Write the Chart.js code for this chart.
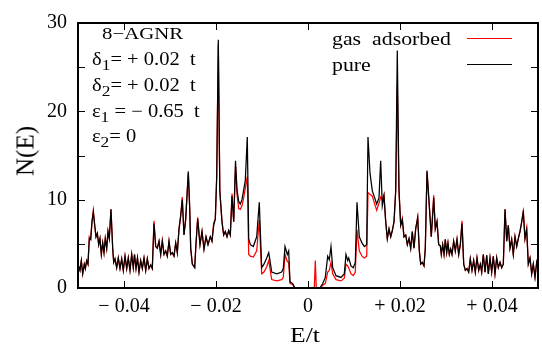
<!DOCTYPE html>
<html>
<head>
<meta charset="utf-8">
<title>8-AGNR density of states</title>
<script src="https://cdn.jsdelivr.net/npm/chart.js@4.4.0/dist/chart.umd.min.js"></script>
<style>
  body { margin: 0; background: #fff; }
  #wrap { position: relative; width: 542px; height: 354px; font-family: 'Liberation Serif', 'Times New Roman', serif; color: #000; }
  #wrap canvas { position: absolute; left: 0; top: 0; }
  .txt { position: absolute; white-space: pre; line-height: 1; transform-origin: 0 0; }
  .info { left: 92px; font-size: 18px; transform: scaleX(1.14); }
  .info sub { font-size: 0.85em; vertical-align: -0.3em; line-height: 0; }
  .key { left: 332px; font-size: 19.5px; transform: scaleX(1.12); }
  .sample { position: absolute; left: 467px; width: 45px; height: 0; border-top: 1.2px solid; }
</style>
</head>
<body>
<div id="wrap">
  <canvas id="dos" width="542" height="354"></canvas>

  <div class="txt info" style="left:102px; top:26px; font-size:16px; transform:scaleX(1.3);">8−AGNR</div>
  <div class="txt info" style="top:50px;">δ<sub>1</sub>= + 0.02  t</div>
  <div class="txt info" style="top:76px;">δ<sub>2</sub>= + 0.02  t</div>
  <div class="txt info" style="top:102px;">ε<sub>1</sub> = − 0.65  t</div>
  <div class="txt info" style="top:127px;">ε<sub>2</sub>= 0</div>

  <div class="txt key" style="top:29px;">gas  adsorbed</div>
  <div class="sample" style="top:38px; border-color:#ff0000;"></div>
  <div class="txt key" style="top:55px;">pure</div>
  <div class="sample" style="top:64px; border-color:#000000;"></div>

  <div class="txt" style="left:290px; top:325px; font-size:20px; transform:scaleX(1.28);">E/t</div>
  <div class="txt" style="left:25px; top:151px; font-size:25px; transform-origin:50% 50%; transform:translate(-50%,-50%) rotate(-90deg);">N(E)</div>
</div>

<script>
// energy grid (units of t) shared by both curves
const energy = [
  -0.05000, -0.04957, -0.04928, -0.04898, -0.04863, -0.04841, -0.04811, -0.04783, -0.04754, -0.04724,
  -0.04696, -0.04667, -0.04637, -0.04609, -0.04580, -0.04550, -0.04522, -0.04493, -0.04463, -0.04435,
  -0.04407, -0.04376, -0.04348, -0.04320, -0.04283, -0.04246, -0.04224, -0.04196, -0.04159, -0.04124,
  -0.04087, -0.04050, -0.04015, -0.03978, -0.03941, -0.03907, -0.03870, -0.03833, -0.03798, -0.03772,
  -0.03739, -0.03707, -0.03674, -0.03637, -0.03602, -0.03565, -0.03528, -0.03493, -0.03457, -0.03420,
  -0.03385, -0.03348, -0.03311, -0.03276, -0.03239, -0.03202, -0.03167, -0.03130, -0.03093, -0.03059,
  -0.03022, -0.02985, -0.02950, -0.02913, -0.02876, -0.02841, -0.02804, -0.02767, -0.02733, -0.02696,
  -0.02659, -0.02602, -0.02572, -0.02550, -0.02515, -0.02463, -0.02435, -0.02398, -0.02348, -0.02304,
  -0.02261, -0.02217, -0.02174, -0.02124, -0.02087, -0.02050, -0.02015, -0.01985, -0.01950, -0.01917,
  -0.01870, -0.01833, -0.01798, -0.01761, -0.01724, -0.01689, -0.01652, -0.01615, -0.01576, -0.01543,
  -0.01507, -0.01472, -0.01435, -0.01398, -0.01363, -0.01320, -0.01289, -0.01254,
  -0.01189, -0.01115, -0.01059, -0.01007, -0.00957, -0.00898, -0.00854, -0.00826, -0.00789, -0.00680,
  -0.00572, -0.00537, -0.00500, -0.00450, -0.00420, -0.00391, -0.00333, -0.00298, -0.00261,
  0.00137, 0.00159, 0.00180, 0.00261, 0.00320, 0.00376, 0.00428, 0.00463, 0.00500, 0.00537,
  0.00609, 0.00717, 0.00789, 0.00826, 0.00863, 0.00885, 0.00935, 0.00985, 0.01028, 0.01065,
  0.01115, 0.01174, 0.01224,
  0.01276, 0.01304, 0.01348, 0.01398, 0.01450, 0.01493, 0.01543, 0.01580, 0.01615, 0.01652,
  0.01689, 0.01724, 0.01761, 0.01798, 0.01833, 0.01870, 0.01907, 0.01941, 0.01978, 0.02015,
  0.02050, 0.02087, 0.02124, 0.02159, 0.02196, 0.02233, 0.02267, 0.02304, 0.02341, 0.02385,
  0.02420, 0.02450, 0.02485, 0.02522,
  0.02550, 0.02587, 0.02637, 0.02680, 0.02733, 0.02767, 0.02804, 0.02841, 0.02876, 0.02898,
  0.02928, 0.02957, 0.02985, 0.03015, 0.03043, 0.03072, 0.03102, 0.03130, 0.03167, 0.03202,
  0.03239, 0.03276, 0.03311, 0.03348, 0.03385, 0.03420, 0.03457, 0.03493, 0.03528, 0.03565,
  0.03602, 0.03637, 0.03674, 0.03711, 0.03746, 0.03776,
  0.03811, 0.03848, 0.03885, 0.03920, 0.03957, 0.03993, 0.04028, 0.04065, 0.04102, 0.04137,
  0.04174, 0.04211, 0.04246, 0.04283, 0.04320, 0.04354, 0.04391, 0.04428, 0.04463, 0.04500,
  0.04537, 0.04572, 0.04609, 0.04646, 0.04680, 0.04717, 0.04754, 0.04789, 0.04826, 0.04863,
  0.04898, 0.04935, 0.04972, 0.05000
];

// N(E) of the clean ribbon
const pure = [
  2.7, 2.0, 3.1, 1.6, 2.7, 2.2, 3.1, 2.7, 5.6, 5.5,
  7.5, 8.6, 7.1, 5.8, 6.2, 4.9, 5.6, 3.8, 5.1, 4.0,
  5.6, 4.5, 6.4, 5.6, 8.9, 4.5, 2.9, 3.3, 2.3, 3.4,
  2.2, 3.3, 2.0, 3.6, 2.2, 3.4, 2.0, 3.8, 2.3, 3.8,
  2.2, 3.4, 1.8, 3.1, 2.2, 3.4, 2.0, 3.3, 2.2, 2.6,
  2.2, 7.3, 4.7, 4.5, 5.3, 3.8, 5.3, 3.8, 4.2, 3.6,
  5.3, 3.8, 4.0, 3.6, 5.1, 4.0, 6.7, 8.2, 10.0, 6.0,
  7.8, 13.2, 9.1, 4.5, 2.7, 2.3, 5.0, 7.8, 4.9, 6.4,
  4.4, 5.8, 4.9, 5.8, 5.3, 7.1, 7.8, 12.5, 28.1, 11.0,
  7.5, 6.0, 6.4, 5.8, 6.5, 6.0, 10.4, 7.5, 14.4, 11.1,
  9.8, 9.5, 10.0, 11.1, 12.2, 17.1, 5.6, 4.9,
  4.7, 5.8, 9.7, 2.3, 2.7, 3.4, 4.0, 3.1, 1.8, 1.6,
  1.8, 2.2, 4.7, 3.8, 4.2, 0.7, 0.5, 0.1, 0,
  0, 0, 0, 0, 0.5, 1.2, 3.6, 3.2, 4.7, 2.3,
  1.4, 1.2, 1.6, 3.8, 3.1, 3.4, 2.5, 2.3, 2.9, 9.7,
  5.8, 5.1, 4.7,
  4.9, 17.1, 13.0, 11.0, 10.2, 9.5, 10.2, 14.4, 9.3, 10.4,
  7.5, 5.6, 6.7, 5.8, 6.5, 7.5, 11.1, 26.9, 11.1, 7.1,
  7.7, 5.8, 6.0, 4.9, 5.6, 4.5, 6.4, 4.5, 6.7, 8.0,
  4.2, 2.7, 2.9, 2.5,
  4.5, 13.3, 9.3, 5.8, 10.2, 6.7, 7.5, 4.9, 4.8, 3.8,
  4.9, 3.8, 5.5, 4.0, 5.1, 3.8, 4.4, 3.8, 5.3, 4.2,
  5.5, 3.8, 4.9, 7.3, 2.7, 2.0, 2.2, 1.8, 3.3, 2.0,
  3.1, 1.8, 3.4, 2.0, 2.7, 1.8,
  3.8, 1.8, 3.7, 1.6, 3.4, 1.8, 3.6, 1.6, 3.4, 2.3,
  2.9, 2.3, 2.7, 8.9, 5.3, 7.1, 4.5, 5.5, 3.8, 5.8,
  4.7, 5.6, 6.4, 7.5, 8.6, 5.6, 6.6, 2.7, 3.4, 1.6,
  2.7, 1.2, 2.9, 2.3
];

// N(E) with the gas molecule adsorbed
const gasAdsorbed = [
  2.7, 2.0, 3.1, 1.6, 2.7, 2.2, 3.1, 2.7, 5.8, 5.5,
  7.5, 8.8, 7.1, 5.8, 6.2, 4.9, 5.6, 3.8, 5.1, 4.0,
  5.6, 4.5, 6.4, 5.6, 8.9, 4.5, 2.9, 3.3, 2.3, 3.4,
  2.2, 3.3, 2.0, 3.6, 2.2, 3.4, 2.0, 3.8, 2.3, 3.8,
  2.2, 3.4, 1.8, 3.1, 2.2, 3.4, 2.0, 3.3, 2.2, 2.6,
  2.2, 7.6, 4.7, 4.5, 5.3, 3.8, 5.4, 3.8, 4.2, 3.6,
  5.3, 3.8, 4.0, 3.6, 5.1, 4.0, 6.7, 8.2, 10.3, 6.0,
  7.8, 13.0, 9.1, 4.5, 2.7, 2.3, 5.0, 8.0, 4.9, 6.4,
  4.4, 5.8, 4.9, 5.8, 5.3, 7.4, 7.8, 12.5, 27.6, 11.0,
  7.5, 6.0, 6.4, 5.8, 6.5, 6.0, 10.7, 7.5, 13.8, 10.6,
  9.0, 8.9, 9.3, 10.2, 11.3, 12.6, 3.8, 3.6,
  3.5, 4.2, 7.7, 1.6, 1.8, 2.4, 3.1, 2.2, 0.95, 0.8,
  0.95, 1.2, 3.8, 3.0, 2.9, 0.5, 0.4, 0.1, 0,
  0, 3.1, 0, 0, 0.3, 0.5, 1.8, 2.0, 2.9, 1.6,
  0.95, 0.8, 1.1, 2.7, 2.5, 2.3, 1.6, 1.4, 1.8, 6.6,
  4.2, 3.6, 3.4,
  3.6, 10.8, 10.6, 10.4, 9.5, 8.8, 9.6, 10.3, 10.0, 10.6,
  7.5, 5.6, 6.7, 5.8, 6.5, 7.5, 11.0, 22.9, 11.0, 7.1,
  7.9, 5.8, 6.0, 4.9, 5.6, 4.5, 6.4, 4.5, 6.7, 8.0,
  4.2, 2.7, 2.9, 2.5,
  4.5, 13.1, 9.3, 5.8, 10.5, 6.7, 7.6, 4.9, 4.8, 3.8,
  4.9, 3.8, 5.5, 4.0, 5.1, 3.8, 4.4, 3.8, 5.3, 4.2,
  5.5, 3.8, 4.9, 7.6, 2.7, 2.0, 2.2, 1.8, 3.3, 2.0,
  3.1, 1.8, 3.4, 2.0, 2.7, 1.8,
  3.8, 1.8, 3.7, 1.6, 3.4, 1.8, 3.6, 1.6, 3.4, 2.3,
  2.9, 2.3, 2.7, 8.9, 5.3, 7.1, 4.5, 5.5, 3.8, 5.8,
  4.7, 5.6, 6.4, 7.5, 8.8, 5.6, 6.8, 2.7, 3.4, 1.6,
  2.7, 1.2, 2.9, 2.3
];

const xTicks = [-0.04, -0.02, 0, 0.02, 0.04];
const yTicks = [0, 5, 10, 15, 20, 25, 30];
const yLabelled = [0, 10, 20, 30];

const serif = 'Liberation Serif';

function fmtEnergy(v) {
  if (v === 0) return '0';
  return (v < 0 ? '\u2212 ' : '+ ') + Math.abs(v).toFixed(2);
}

// gnuplot-like box with inward ticks on all four sides
const frameTicks = {
  id: 'frameTicks',
  afterDatasetsDraw(chart) {
    const { ctx, chartArea: a, scales: { x, y } } = chart;
    const len = 7;
    ctx.save();
    ctx.strokeStyle = '#000';
    ctx.lineWidth = 1;
    ctx.beginPath();
    xTicks.forEach(v => {
      const px = Math.round(x.getPixelForValue(v)) + 0.5;
      ctx.moveTo(px, a.bottom); ctx.lineTo(px, a.bottom - len);
      ctx.moveTo(px, a.top); ctx.lineTo(px, a.top + len);
    });
    yTicks.forEach(v => {
      const py = Math.round(y.getPixelForValue(v)) + 0.5;
      ctx.moveTo(a.left, py); ctx.lineTo(a.left + len, py);
      ctx.moveTo(a.right, py); ctx.lineTo(a.right - len, py);
    });
    ctx.stroke();
    ctx.lineWidth = 2;
    ctx.strokeRect(a.left, a.top, a.right - a.left, a.bottom - a.top);
    ctx.restore();
  }
};

const points = vals => energy.map((e, i) => ({ x: e, y: vals[i] }));

new Chart(document.getElementById('dos'), {
  type: 'line',
  data: {
    datasets: [
      { label: 'gas adsorbed', data: points(gasAdsorbed), borderColor: '#ff0000', borderWidth: 1.25, order: 1 },
      { label: 'pure', data: points(pure), borderColor: '#000000', borderWidth: 1.25, order: 0 }
    ]
  },
  options: {
    responsive: false,
    animation: false,
    events: [],
    layout: { padding: { top: 14, right: 4, bottom: 0, left: 0 } },
    elements: { point: { radius: 0 }, line: { tension: 0, fill: false } },
    plugins: { legend: { display: false }, tooltip: { enabled: false } },
    scales: {
      x: {
        type: 'linear',
        min: -0.05,
        max: 0.05,
        afterBuildTicks: s => { s.ticks = xTicks.map(v => ({ value: v })); },
        afterFit: s => { s.height = 66; },
        grid: { display: false, drawTicks: false },
        border: { display: false },
        ticks: {
          padding: 7,
          maxRotation: 0,
          color: '#000',
          font: { family: serif, size: 20 },
          callback: v => fmtEnergy(v)
        }
      },
      y: {
        min: 0,
        max: 30,
        afterBuildTicks: s => { s.ticks = yTicks.map(v => ({ value: v })); },
        afterFit: s => { s.width = 78; },
        grid: { display: false, drawTicks: false },
        border: { display: false },
        ticks: {
          padding: 11,
          color: '#000',
          font: { family: serif, size: 20 },
          callback: v => yLabelled.includes(v) ? String(v) : ''
        }
      }
    }
  },
  plugins: [frameTicks]
});
</script>
</body>
</html>
